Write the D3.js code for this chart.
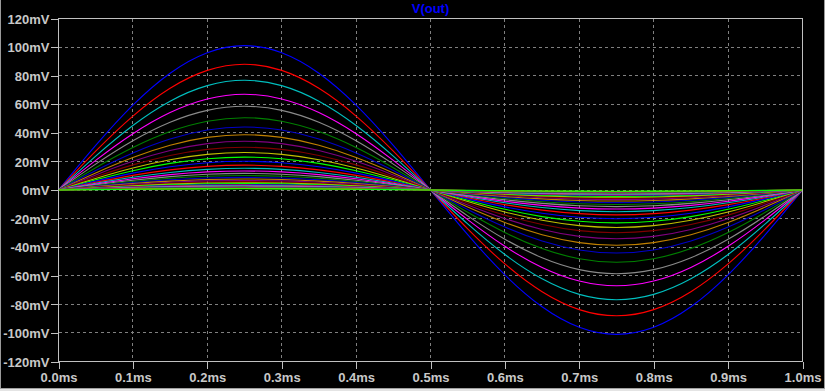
<!DOCTYPE html>
<html>
<head>
<meta charset="utf-8">
<script src="https://cdn.jsdelivr.net/npm/d3@7"></script>
<style>
  body { margin: 0; background: #000; }
  svg { display: block; }
</style>
</head>
<body>
<div class="canvas"></div>
<script>
// time axis samples (ms) and the normalised waveform
const timeMs = [0, 0.05, 0.1, 0.15, 0.2, 0.25, 0.3, 0.35, 0.4, 0.45, 0.5,
                0.55, 0.6, 0.65, 0.7, 0.75, 0.8, 0.85, 0.9, 0.95, 1.0];
const shape = [0, 0.309, 0.588, 0.809, 0.951, 1, 0.951, 0.809, 0.588, 0.309, 0,
               -0.309, -0.588, -0.809, -0.951, -1, -0.951, -0.809, -0.588, -0.309, 0];

// peak of every stepped trace (mV), largest first
const peaks = [101, 88, 76.8, 67, 58.6, 50.6, 44.1, 38.7, 34.1, 29.9, 26.2, 23.0,
               20.1, 17.4, 15.2, 13.3, 11.6, 10.1, 8.8, 7.7, 6.7, 5.9, 5.1, 4.5,
               3.9, 3.4, 3.0, 2.6, 2.3, 2.0, 1.7, 1.5, 1.3, 1.1, 1.0, 0.85];

// LTspice trace colours, cycled
const traceColors = ['#0000ff', '#ff0000', '#00bfbf', '#ff00ff', '#8a8a8a', '#008000',
                     '#0000c8', '#c08000', '#800080', '#800000', '#c0c000', '#00ff00'];

const xTicks = [0, 0.1, 0.2, 0.3, 0.4, 0.5, 0.6, 0.7, 0.8, 0.9, 1.0];
const xTickLabels = ['0.0ms', '0.1ms', '0.2ms', '0.3ms', '0.4ms', '0.5ms',
                     '0.6ms', '0.7ms', '0.8ms', '0.9ms', '1.0ms'];
const yTicks = [-120, -100, -80, -60, -40, -20, 0, 20, 40, 60, 80, 100, 120];
const yTickLabels = ['-120mV', '-100mV', '-80mV', '-60mV', '-40mV', '-20mV', '0mV',
                     '20mV', '40mV', '60mV', '80mV', '100mV', '120mV'];
const title = 'V(out)';

const width = 825, height = 391;
const plotLeft = 58.5, plotRight = 802.5, plotTop = 18.5, plotBottom = 361.5;

const svg = d3.select('.canvas').append('svg')
    .attr('width', width)
    .attr('height', height)
    .style('background', '#000');

// window border
svg.append('rect').attr('x', 0).attr('y', 0).attr('width', 1).attr('height', height).attr('fill', '#9a9a9a');
svg.append('rect').attr('x', 824).attr('y', 0).attr('width', 1).attr('height', height).attr('fill', '#9a9a9a');
svg.append('rect').attr('x', 0).attr('y', 388).attr('width', width).attr('height', 1).attr('fill', '#a0a0a0');
svg.append('rect').attr('x', 0).attr('y', 389).attr('width', width).attr('height', 2).attr('fill', '#e4e4e4');

// scales
const x = d3.scaleLinear().domain([0, 1]).range([plotLeft, plotRight]);
const y = d3.scaleLinear().domain([-120, 120]).range([plotBottom, plotTop]);

// grid
const grid = svg.append('g')
    .attr('stroke', '#808080')
    .attr('stroke-width', 1)
    .attr('stroke-dasharray', '3,3')
    .attr('shape-rendering', 'crispEdges');
grid.selectAll('.vg').data(xTicks.slice(1, -1)).enter().append('line')
    .attr('x1', d => x(d)).attr('x2', d => x(d))
    .attr('y1', plotTop).attr('y2', plotBottom);
grid.selectAll('.hg').data(yTicks.slice(1, -1)).enter().append('line')
    .attr('x1', plotLeft).attr('x2', plotRight)
    .attr('y1', d => y(d)).attr('y2', d => y(d));

// traces
const line = d3.line()
    .x((d, i) => x(timeMs[i]))
    .y(d => y(d))
    .curve(d3.curveNatural);

svg.append('g')
    .selectAll('path')
    .data(peaks)
    .enter().append('path')
    .attr('d', p => line(shape.map(s => s * p)))
    .attr('fill', 'none')
    .attr('stroke', (p, i) => traceColors[i % traceColors.length])
    .attr('stroke-width', 1.1);

// frame
svg.append('rect')
    .attr('x', plotLeft).attr('y', plotTop)
    .attr('width', plotRight - plotLeft).attr('height', plotBottom - plotTop)
    .attr('fill', 'none')
    .attr('stroke', '#c0c0c0')
    .attr('shape-rendering', 'crispEdges');

// axes
const xAxis = d3.axisBottom(x)
    .tickValues(xTicks)
    .tickFormat((d, i) => xTickLabels[i])
    .tickSize(7)
    .tickPadding(4);
const yAxis = d3.axisLeft(y)
    .tickValues(yTicks)
    .tickFormat((d, i) => yTickLabels[i])
    .tickSize(8)
    .tickPadding(1);

const xAxisGroup = svg.append('g')
    .attr('transform', `translate(0, ${plotBottom})`)
    .call(xAxis);
const yAxisGroup = svg.append('g')
    .attr('transform', `translate(${plotLeft}, 0)`)
    .call(yAxis);

[xAxisGroup, yAxisGroup].forEach(g => {
    g.select('.domain').remove();
    g.selectAll('line').attr('stroke', '#c0c0c0').attr('shape-rendering', 'crispEdges');
    g.selectAll('text')
        .attr('fill', '#c8c8c8')
        .style('font-family', '"Liberation Sans", Arial, sans-serif')
        .style('font-size', '13px')
        .style('font-weight', 'bold');
});
yAxisGroup.selectAll('text').attr('dy', '0.36em');

// title
svg.append('text')
    .attr('x', (plotLeft + plotRight) / 2)
    .attr('y', 13)
    .attr('text-anchor', 'middle')
    .attr('fill', '#0000ff')
    .style('font-family', '"Liberation Sans", Arial, sans-serif')
    .style('font-size', '13px')
    .style('font-weight', 'bold')
    .text(title);
</script>
</body>
</html>
